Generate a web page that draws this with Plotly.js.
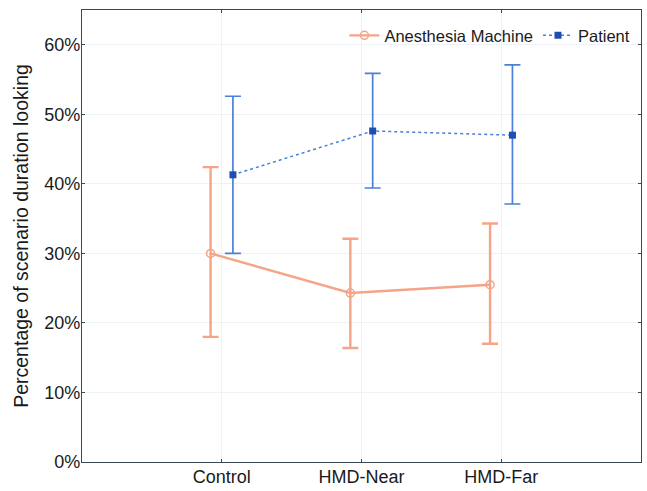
<!DOCTYPE html>
<html><head><meta charset="utf-8">
<script src="https://cdn.plot.ly/plotly-3.0.1.min.js"></script>
<style>html,body{margin:0;padding:0;background:#fff}#chart{width:647px;height:491px}</style>
</head><body><div id="chart"></div>
<script>
const categories = ['Control', 'HMD-Near', 'HMD-Far'];
const machineMean = [0.300, 0.243, 0.255];
const machineUpper = [0.424, 0.321, 0.343];
const machineLower = [0.180, 0.164, 0.170];
const patientMean = [0.413, 0.476, 0.470];
const patientUpper = [0.526, 0.559, 0.571];
const patientLower = [0.300, 0.394, 0.371];

const up = (m, u) => u.map((v, i) => v - m[i]);
const dn = (m, l) => l.map((v, i) => m[i] - v);

const orange = '#F5A488';
const blue = '#4A7FDA';

const traces = [
  {
    name: 'Anesthesia Machine', x: categories, y: machineMean, type: 'scatter', mode: 'lines+markers',
    offsetgroup: 'a',
    line: {color: orange, width: 2.4},
    marker: {symbol: 'circle-open', size: 8, color: orange, line: {width: 1.5, color: orange}},
    error_y: {type: 'data', symmetric: false, array: up(machineMean, machineUpper), arrayminus: dn(machineMean, machineLower), color: orange, thickness: 2.4, width: 8}
  },
  {
    name: 'Patient', x: categories, y: patientMean, type: 'scatter', mode: 'lines+markers',
    offsetgroup: 'b',
    line: {color: blue, width: 1.5, dash: 'dot'},
    marker: {symbol: 'square', size: 7, color: '#1E4FAF'},
    error_y: {type: 'data', symmetric: false, array: up(patientMean, patientUpper), arrayminus: dn(patientMean, patientLower), color: blue, thickness: 1.7, width: 8}
  }
];

const layout = {
  width: 647, height: 491,
  margin: {l: 82, r: 6, t: 10, b: 29},
  paper_bgcolor: '#fff', plot_bgcolor: '#fff',
  font: {family: 'Liberation Sans, Arial, sans-serif', color: '#1a1a1a', size: 18},
  scattermode: 'group', scattergap: 0.68,
  showlegend: true,
  legend: {orientation: 'h', x: 0.99, xanchor: 'right', y: 0.982, yanchor: 'top', font: {size: 16.5}, bgcolor: 'rgba(0,0,0,0)', itemwidth: 30, tracegroupgap: 0},
  xaxis: {
    type: 'category', range: [-1, 3],
    showgrid: true, gridcolor: '#EEF1F6', gridwidth: 1,
    showline: true, linecolor: '#3a4a55', linewidth: 1.2, mirror: 'ticks',
    ticks: 'inside', ticklen: 3, tickcolor: '#3a4a55',
    tickfont: {size: 18}, zeroline: false, ticklabelstandoff: -2
  },
  yaxis: {
    range: [0, 0.65], tickvals: [0, 0.1, 0.2, 0.3, 0.4, 0.5, 0.6], tickformat: '.0%',
    showgrid: true, gridcolor: '#EEF1F6', gridwidth: 1,
    showline: true, linecolor: '#3a4a55', linewidth: 1.2, mirror: 'ticks',
    ticks: 'inside', ticklen: 3, tickcolor: '#3a4a55',
    tickfont: {size: 18}, zeroline: false, ticklabelstandoff: -3,
    title: {text: 'Percentage of scenario duration looking', font: {size: 19.5}, standoff: 10}
  }
};

Plotly.newPlot('chart', traces, layout, {displayModeBar: false, staticPlot: true});
</script></body></html>
